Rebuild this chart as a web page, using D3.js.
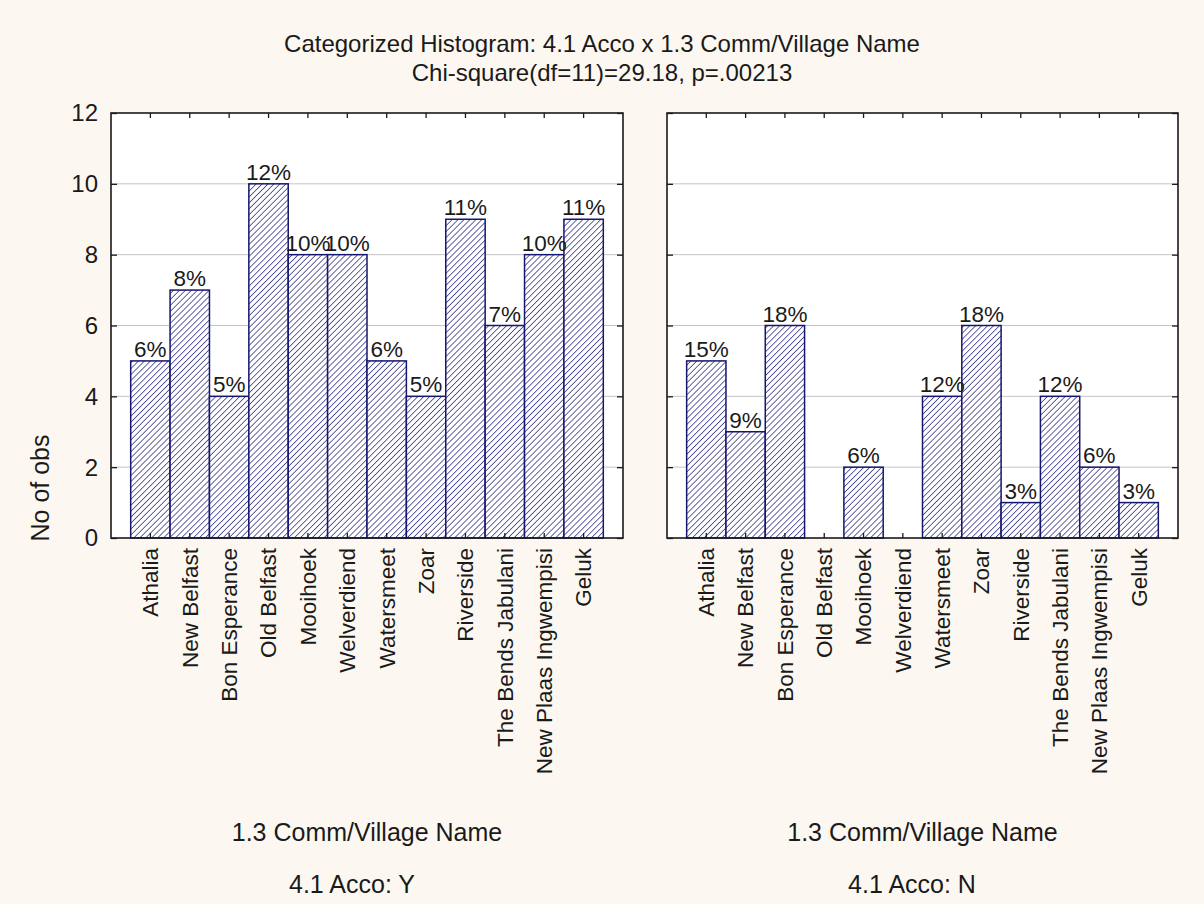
<!DOCTYPE html>
<html>
<head>
<meta charset="utf-8">
<script src="https://cdn.jsdelivr.net/npm/d3@7"></script>
<style>
  html, body { margin: 0; padding: 0; background: #fcf8f1; }
  svg { display: block; }
  text { font-family: "Liberation Sans", Arial, sans-serif; fill: #1a1a1a; }
</style>
</head>
<body>
<svg id="chart" width="1204" height="904"></svg>
<script>
// Villages on the category axis (same order in both panels)
const categories = [
  "Athalia", "New Belfast", "Bon Esperance", "Old Belfast", "Mooihoek",
  "Welverdiend", "Watersmeet", "Zoar", "Riverside", "The Bends Jabulani",
  "New Plaas Ingwempisi", "Geluk"
];
// Counts per village for each level of 4.1 Acco
const countsAccoY = [5, 7, 4, 10, 8, 8, 5, 4, 9, 6, 8, 9];
const countsAccoN = [5, 3, 6, 0, 2, 0, 4, 6, 1, 4, 2, 1];
const yTicks = [0, 2, 4, 6, 8, 10, 12];
const panelLabels = ["4.1 Acco: Y", "4.1 Acco: N"];
const titleLines = [
  "Categorized Histogram: 4.1 Acco x 1.3 Comm/Village Name",
  "Chi-square(df=11)=29.18, p=.00213"
];
const xAxisTitle = "1.3 Comm/Village Name";
const yAxisTitle = "No of obs";

const svg = d3.select("#chart");
const plotTop = 113, plotBottom = 538;
const panels = [
  { left: 111, right: 623, counts: countsAccoY, label: panelLabels[0], labelX: 352 },
  { left: 667, right: 1178, counts: countsAccoN, label: panelLabels[1], labelX: 912 }
];
const navy = "#16166e";

// Diagonal hatch fill for the bars
const defs = svg.append("defs");
const pat = defs.append("pattern")
  .attr("id", "hatch")
  .attr("patternUnits", "userSpaceOnUse")
  .attr("width", 4.2).attr("height", 4.2)
  .attr("patternTransform", "rotate(45)");
pat.append("rect").attr("width", 4.2).attr("height", 4.2).attr("fill", "#ffffff");
pat.append("line")
  .attr("x1", 0).attr("y1", 0).attr("x2", 0).attr("y2", 4.2)
  .attr("stroke", "#24247c").attr("stroke-width", 1.4);

const y = d3.scaleLinear().domain([0, 12]).range([plotBottom, plotTop]);

// Title
svg.selectAll("text.title")
  .data(titleLines)
  .join("text")
  .attr("class", "title")
  .attr("x", 602)
  .attr("y", (d, i) => 52 + i * 29)
  .attr("text-anchor", "middle")
  .attr("font-size", 24)
  .text(d => d);

// Y axis title
svg.append("text")
  .attr("transform", "translate(49,488) rotate(-90)")
  .attr("text-anchor", "middle")
  .attr("font-size", 25)
  .text(yAxisTitle);

panels.forEach((p, pi) => {
  const x = d3.scaleBand()
    .domain(categories)
    .range([p.left, p.right])
    .paddingInner(0)
    .paddingOuter(0.5);

  const g = svg.append("g");
  const total = d3.sum(p.counts);

  // Plot background
  g.append("rect")
    .attr("x", p.left).attr("y", plotTop)
    .attr("width", p.right - p.left).attr("height", plotBottom - plotTop)
    .attr("fill", "#ffffff");

  // Horizontal gridlines
  g.selectAll("line.grid")
    .data(yTicks.filter(t => t > 0 && t < 12))
    .join("line")
    .attr("class", "grid")
    .attr("x1", p.left).attr("x2", p.right)
    .attr("y1", d => y(d)).attr("y2", d => y(d))
    .attr("stroke", "#c4c4c4").attr("stroke-width", 1);

  // Bars
  const rows = categories.map((c, i) => ({ c, v: p.counts[i] }));
  g.selectAll("rect.bar")
    .data(rows.filter(d => d.v > 0))
    .join("rect")
    .attr("class", "bar")
    .attr("x", d => x(d.c))
    .attr("y", d => y(d.v))
    .attr("width", x.bandwidth())
    .attr("height", d => y(0) - y(d.v))
    .attr("fill", "url(#hatch)")
    .attr("stroke", navy)
    .attr("stroke-width", 1.5);

  // Percent labels above bars
  g.selectAll("text.pct")
    .data(rows.filter(d => d.v > 0))
    .join("text")
    .attr("class", "pct")
    .attr("x", d => x(d.c) + x.bandwidth() / 2)
    .attr("y", d => y(d.v) - 4)
    .attr("text-anchor", "middle")
    .attr("font-size", 22.5)
    .text(d => Math.round(d.v / total * 100) + "%");

  // Inward ticks on all four sides
  const tickStyle = sel => {
    sel.select(".domain").remove();
    sel.selectAll(".tick line").attr("stroke", "#1a1a1a").attr("stroke-width", 1.3);
    sel.selectAll(".tick text").remove();
  };
  g.append("g").attr("transform", `translate(0,${plotBottom})`)
    .call(d3.axisBottom(x).tickSize(-5)).call(tickStyle);
  g.append("g").attr("transform", `translate(0,${plotTop})`)
    .call(d3.axisTop(x).tickSize(-5)).call(tickStyle);
  g.append("g").attr("transform", `translate(${p.left},0)`)
    .call(d3.axisLeft(y).tickValues(yTicks).tickSize(-6)).call(tickStyle);
  g.append("g").attr("transform", `translate(${p.right},0)`)
    .call(d3.axisRight(y).tickValues(yTicks).tickSize(-6)).call(tickStyle);

  // Frame
  g.append("rect")
    .attr("x", p.left).attr("y", plotTop)
    .attr("width", p.right - p.left).attr("height", plotBottom - plotTop)
    .attr("fill", "none").attr("stroke", "#1a1a1a").attr("stroke-width", 1.6);

  // Y tick labels (left panel only)
  if (pi === 0) {
    g.selectAll("text.ytick")
      .data(yTicks)
      .join("text")
      .attr("class", "ytick")
      .attr("x", p.left - 13)
      .attr("y", d => y(d))
      .attr("dy", "0.35em")
      .attr("text-anchor", "end")
      .attr("font-size", 24)
      .text(d => d);
  }

  // Category labels, rotated
  g.selectAll("text.cat")
    .data(categories)
    .join("text")
    .attr("class", "cat")
    .attr("transform", d => `translate(${x(d) + x.bandwidth() / 2},${plotBottom + 10}) rotate(-90)`)
    .attr("dy", "0.35em")
    .attr("text-anchor", "end")
    .attr("font-size", 22.5)
    .text(d => d);

  // Axis titles under each panel
  const cx = (p.left + p.right) / 2;
  g.append("text")
    .attr("x", cx).attr("y", 841)
    .attr("text-anchor", "middle")
    .attr("font-size", 25)
    .text(xAxisTitle);
  g.append("text")
    .attr("x", p.labelX).attr("y", 893)
    .attr("text-anchor", "middle")
    .attr("font-size", 25)
    .text(p.label);
});
</script>
</body>
</html>
